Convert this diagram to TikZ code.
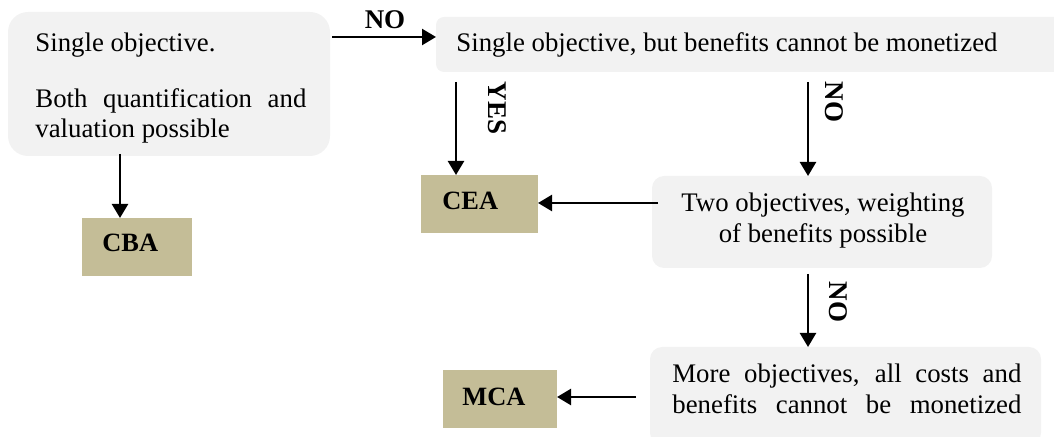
\documentclass[tikz,border=0pt]{standalone}
\usepackage{fontspec}
\setmainfont{Liberation Serif}
\usetikzlibrary{arrows.meta}
\definecolor{boxgray}{HTML}{F2F2F2}
\definecolor{tan}{HTML}{C4BD97}
\tikzset{
  gbox/.style={fill=boxgray, draw=none, anchor=north west, inner sep=0pt, outer sep=0pt},
  tbox/.style={fill=tan, draw=none, anchor=north west, inner sep=0pt, outer sep=0pt, minimum height=29pt},
  txt/.style={anchor=base west, inner sep=0pt, font=\fontsize{13.4}{15}\selectfont},
  btxt/.style={anchor=base west, inner sep=0pt, font=\fontsize{13.2}{15}\selectfont\bfseries},
  lbl/.style={inner sep=0pt, font=\fontsize{13.5}{15}\selectfont\bfseries},
  arr/.style={line width=1.2pt, -{Triangle[length=7pt,width=8pt]}}
}
\begin{document}
\begin{tikzpicture}[x=0.5pt,y=-0.5pt]
\clip (0,0) rectangle (1054,437);
\useasboundingbox (0,0) rectangle (1054,437);
% boxes
\node[gbox, rounded corners=10pt, minimum width=161pt, minimum height=72pt] (b1) at (8,12) {};
\node[gbox, rounded corners=4pt, minimum width=314pt, minimum height=27.5pt] (b2) at (436,17) {};
\node[gbox, rounded corners=6pt, minimum width=170pt, minimum height=46pt] (b3) at (652,176) {};
\node[gbox, rounded corners=6pt, minimum width=195.5pt, minimum height=49pt] (b4) at (650,347) {};
\node[tbox, minimum width=55pt] (cba) at (82,218) {};
\node[tbox, minimum width=58.5pt] (cea) at (421,175) {};
\node[tbox, minimum width=57pt] (mca) at (443,370) {};
% texts
\node[txt] (t1a) at (35,52) {Single objective.};
\node[txt] (t1b) at (35,108) {\makebox[135.5pt][s]{Both quantification and}};
\node[txt] (t1c) at (35,138) {valuation possible};
\node[txt] (t2) at (456,52) {Single objective, but benefits cannot be monetized};
\node[txt, anchor=base] (t3a) at (823,212) {Two objectives, weighting};
\node[txt, anchor=base] (t3b) at (823,243) {of benefits possible};
\node[txt] (t4a) at (672,383) {\makebox[174.5pt][s]{More objectives, all costs and}};
\node[txt] (t4b) at (672,414) {\makebox[174.5pt][s]{benefits cannot be monetized}};
\node[btxt] (tcba) at (102,252) {CBA};
\node[btxt] (tcea) at (442,210) {CEA};
\node[btxt] (tmca) at (462,406) {MCA};
% connector endpoints
\coordinate (s1) at (120,154);
\coordinate (s2) at (332,37);
\coordinate (s3) at (456,82);
\coordinate (s4) at (808,82);
\coordinate (s5) at (658,203);
\coordinate (s6) at (808,274);
\coordinate (s7) at (636,397);
% connectors
\draw[arr] (s1) -- (s1 |- cba.north);
\draw[arr] (s2) -- (s2 -| b2.west);
\draw[arr] (s3) -- (s3 |- cea.north);
\draw[arr] (s4) -- (s4 |- b3.north);
\draw[arr] (s5) -- (s5 -| cea.east);
\draw[arr] (s6) -- (s6 |- b4.north);
\draw[arr] (s7) -- (s7 -| mca.east);
% labels
\node[lbl] (lno1) at (385,20) {NO};
\node[lbl, rotate=-90] (lyes) at (497,108) {YES};
\node[lbl, rotate=-90] (lno2) at (834,102) {NO};
\node[lbl, rotate=-90] (lno3) at (838,302) {NO};
\end{tikzpicture}
\end{document}
